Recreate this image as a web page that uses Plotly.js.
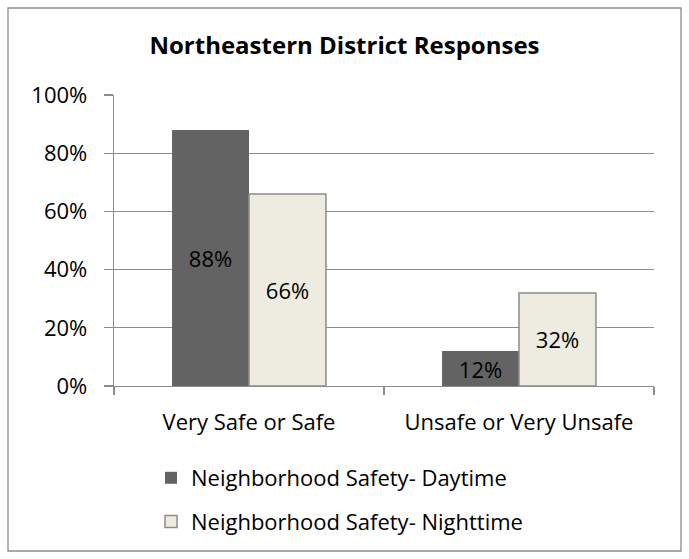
<!DOCTYPE html>
<html>
<head>
<meta charset="utf-8">
<script src="https://cdn.plot.ly/plotly-3.0.1.min.js"></script>
<style>
html,body{margin:0;padding:0;background:#fff;}
#chart{width:689px;height:559px;}
</style>
</head>
<body>
<div id="chart"></div>
<script>
const categories = ["Very Safe or Safe", "Unsafe or Very Unsafe"];
const daytime = [0.88, 0.12];
const nighttime = [0.66, 0.32];
const seriesNames = ["Neighborhood Safety- Daytime", "Neighborhood Safety- Nighttime"];
const yTicks = [0, 0.2, 0.4, 0.6, 0.8, 1.0];
const yTickLabels = ["0%", "20%", "40%", "60%", "80%", "100%"];

const FONT = "'Open Sans', sans-serif";
const FS = 22;
const pct = v => Math.round(v * 100) + "%";

const traces = [
  {
    type: "bar", name: seriesNames[0], x: categories, y: daytime,
    text: daytime.map(pct), textposition: "inside", insidetextanchor: "middle",
    textfont: {family: FONT, size: FS, color: "#000"},
    constraintext: "none",
    marker: {color: "#636363", line: {color: "#636363", width: 0}},
    legendgroup: "a", hoverinfo: "none"
  },
  {
    type: "bar", name: seriesNames[1], x: categories, y: nighttime,
    text: nighttime.map(pct), textposition: "inside", insidetextanchor: "middle",
    textfont: {family: FONT, size: FS, color: "#000"},
    constraintext: "none",
    marker: {color: "#EEECE1", line: {color: "#8C8C8C", width: 1.5}},
    legendgroup: "b", hoverinfo: "none"
  }
];

const L = 114, R = 35, T = 95, B = 173;
const W = 689 - L - R, H = 559 - T - B;
const px = x => (x - L) / W;
const py = y => (559 - B - y) / H;

const layout = {
  width: 689, height: 559,
  margin: {l: L, r: R, t: T, b: B, pad: 0},
  paper_bgcolor: "#fff", plot_bgcolor: "#fff",
  font: {family: FONT, size: FS, color: "#000"},
  title: {
    text: "<b>Northeastern District Responses</b>",
    font: {family: FONT, size: 24, color: "#000"},
    x: 0.5, xref: "container", y: 1 - 46 / 559, yref: "container", yanchor: "middle"
  },
  barmode: "group", bargap: 0.43, bargroupgap: 0,
  xaxis: {
    type: "category", tickson: "boundaries", ticks: "outside", ticklen: 8,
    tickcolor: "#8C8C8C", tickwidth: 1.3,
    showline: true, linecolor: "#8C8C8C", linewidth: 1.3,
    showgrid: false, zeroline: false,
    tickfont: {family: FONT, size: FS, color: "#000"},
    ticklabelstandoff: 16, fixedrange: true
  },
  yaxis: {
    range: [0, 1], tickvals: yTicks, ticktext: yTickLabels, tickmode: "array",
    ticks: "outside", ticklen: 9, tickcolor: "#8C8C8C", tickwidth: 1.3,
    showline: true, linecolor: "#8C8C8C", linewidth: 1.3,
    showgrid: true, gridcolor: "#8C8C8C", gridwidth: 1.3, zeroline: false,
    tickfont: {family: FONT, size: FS, color: "#000"},
    ticklabelstandoff: 12, fixedrange: true
  },
  showlegend: true,
  legend: {
    orientation: "v", x: px(151), xanchor: "left", y: py(457), yanchor: "top",
    font: {family: FONT, size: FS, color: "#000"},
    traceorder: "grouped", tracegroupgap: 12,
    bgcolor: "rgba(0,0,0,0)", borderwidth: 0
  },
  shapes: [{
    type: "rect", xref: "paper", yref: "paper",
    x0: px(8), x1: px(681), y0: py(551), y1: py(8),
    line: {color: "#8C8C8C", width: 1.3}, fillcolor: "rgba(0,0,0,0)", layer: "below"
  }]
};

Plotly.newPlot("chart", traces, layout, {displayModeBar: false, staticPlot: true});
</script>
</body>
</html>
